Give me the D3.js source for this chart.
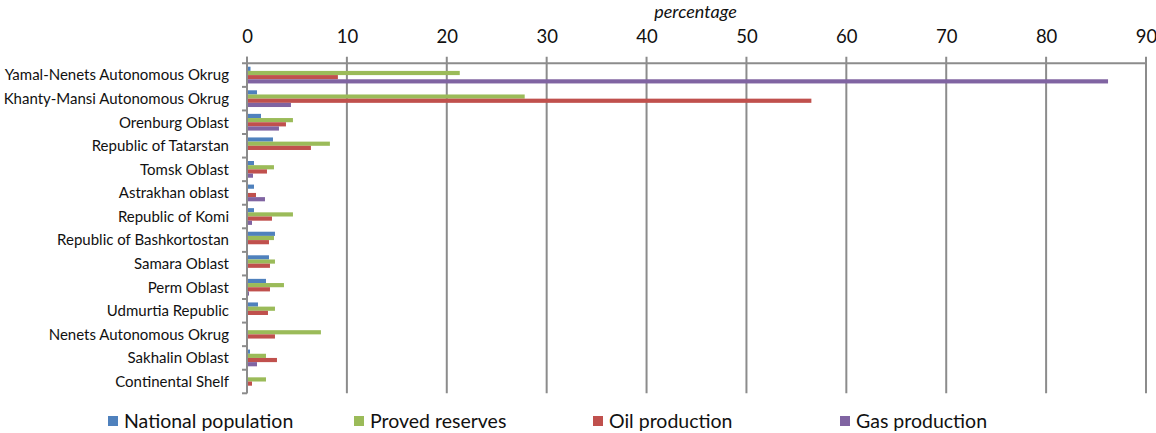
<!DOCTYPE html>
<html>
<head>
<meta charset="utf-8">
<script src="https://cdn.jsdelivr.net/npm/d3@7"></script>
<style>
  html, body { margin: 0; padding: 0; background: #fff; }
  svg { display: block; font-family: Lato, "Open Sans", sans-serif; }
</style>
</head>
<body>
<svg id="chart" width="1156" height="433"></svg>
<script>
// Regions, top to bottom
const categories = [
  "Yamal-Nenets Autonomous Okrug",
  "Khanty-Mansi Autonomous Okrug",
  "Orenburg Oblast",
  "Republic of Tatarstan",
  "Tomsk Oblast",
  "Astrakhan oblast",
  "Republic of Komi",
  "Republic of Bashkortostan",
  "Samara Oblast",
  "Perm Oblast",
  "Udmurtia Republic",
  "Nenets Autonomous Okrug",
  "Sakhalin Oblast",
  "Continental Shelf"
];

// Share of the national total, percent
const nationalPopulation = [0.35, 1.0, 1.4, 2.6, 0.7, 0.7, 0.7, 2.8, 2.2, 1.9, 1.1, 0.0, 0.3, 0.0];
const provedReserves     = [21.3, 27.8, 4.6, 8.3, 2.7, 0.0, 4.6, 2.7, 2.8, 3.7, 2.8, 7.4, 1.9, 1.9];
const oilProduction      = [9.1, 56.5, 3.9, 6.4, 2.0, 0.9, 2.5, 2.2, 2.3, 2.3, 2.1, 2.8, 3.0, 0.5];
const gasProduction      = [86.2, 4.4, 3.2, 0.0, 0.6, 1.8, 0.5, 0.0, 0.0, 0.2, 0.0, 0.1, 1.0, 0.0];

const seriesNames  = ["National population", "Proved reserves", "Oil production", "Gas production"];
const seriesColors = ["#4f81bd", "#9bbb59", "#c0504d", "#8064a2"];
const seriesValues = [nationalPopulation, provedReserves, oilProduction, gasProduction];

const xTicks = [0, 10, 20, 30, 40, 50, 60, 70, 80, 90];
const axisTitle = "percentage";

const svg = d3.select("#chart");
const gridColor = "#8c8c8c";

const plotLeft = 247, plotRight = 1146, plotTop = 63.3, plotBottom = 393.3;

const x = d3.scaleLinear().domain([0, 90]).range([plotLeft, plotRight]);
const y = d3.scaleBand().domain(categories).range([plotTop, plotBottom]).paddingInner(0).paddingOuter(0);
const bw = y.bandwidth();
const ySeries = d3.scaleBand().domain(seriesNames).range([bw * 0.145, bw * 0.855]).padding(0);

// Vertical gridlines (extend a little above the plot as tick marks)
svg.append("g")
  .selectAll("line")
  .data(xTicks)
  .join("line")
  .attr("x1", d => x(d)).attr("x2", d => x(d))
  .attr("y1", plotTop - 6.5).attr("y2", plotBottom)
  .attr("stroke", gridColor)
  .attr("stroke-width", 2);

// Top edge of the plot
svg.append("line")
  .attr("x1", plotLeft - 5).attr("x2", plotRight)
  .attr("y1", plotTop).attr("y2", plotTop)
  .attr("stroke", gridColor).attr("stroke-width", 2);

// Category tick marks at band boundaries
const boundaries = categories.map(c => y(c) + bw);
svg.append("g")
  .selectAll("line")
  .data(boundaries)
  .join("line")
  .attr("x1", plotLeft - 5).attr("x2", plotLeft)
  .attr("y1", d => d).attr("y2", d => d)
  .attr("stroke", gridColor).attr("stroke-width", 2);

// Bars
const groups = svg.append("g")
  .selectAll("g")
  .data(categories)
  .join("g")
  .attr("transform", c => `translate(0,${y(c)})`);

groups.selectAll("rect")
  .data((c, i) => seriesNames.map((s, k) => ({ s, k, v: seriesValues[k][i] })).filter(d => d.v > 0))
  .join("rect")
  .attr("x", x(0))
  .attr("y", d => ySeries(d.s))
  .attr("width", d => x(d.v) - x(0))
  .attr("height", ySeries.bandwidth())
  .attr("fill", d => seriesColors[d.k]);

// Category axis line
svg.append("line")
  .attr("x1", plotLeft).attr("x2", plotLeft)
  .attr("y1", plotTop - 6.5).attr("y2", plotBottom)
  .attr("stroke", gridColor).attr("stroke-width", 2);

// Top value axis labels
const xAxis = d3.axisTop(x).tickValues(xTicks).tickSize(0).tickPadding(0).tickFormat(d3.format("d"));
const gx = svg.append("g").attr("transform", "translate(0,42.7)").call(xAxis);
gx.select(".domain").remove();
gx.selectAll("text")
  .attr("font-family", "Lato, sans-serif")
  .attr("font-size", 18.5)
  .attr("fill", "#111")
  .attr("dy", 0);

// Axis title
svg.append("text")
  .attr("x", (plotLeft + plotRight) / 2 - 1)
  .attr("y", 18)
  .attr("text-anchor", "middle")
  .attr("font-size", 18)
  .attr("font-style", "italic")
  .attr("fill", "#111")
  .text(axisTitle);

// Category labels
svg.append("g")
  .selectAll("text")
  .data(categories)
  .join("text")
  .attr("x", 229)
  .attr("y", c => y(c) + bw / 2)
  .attr("dy", "0.36em")
  .attr("text-anchor", "end")
  .attr("font-size", 15)
  .attr("fill", "#111")
  .text(c => c);

// Legend
const legendX = [108, 354, 593, 840];
const legend = svg.append("g")
  .selectAll("g")
  .data(seriesNames)
  .join("g")
  .attr("transform", (d, i) => `translate(${legendX[i]},416)`);
legend.append("rect")
  .attr("width", 10).attr("height", 10)
  .attr("fill", (d, i) => seriesColors[i]);
legend.append("text")
  .attr("x", 16).attr("y", 5)
  .attr("dy", "0.36em")
  .attr("font-size", 19.5)
  .attr("fill", "#111")
  .text(d => d);
</script>
</body>
</html>
